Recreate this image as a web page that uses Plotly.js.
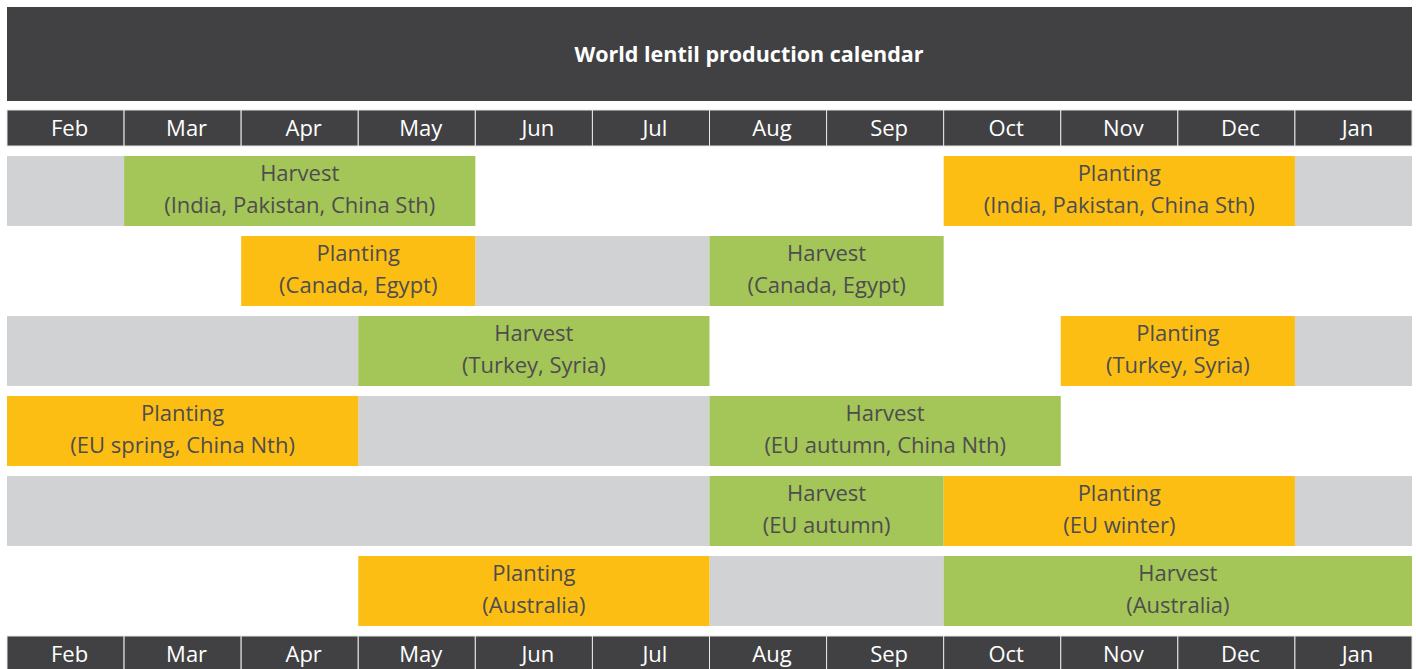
<!DOCTYPE html>
<html>
<head>
<meta charset="utf-8">
<script src="https://cdn.plot.ly/plotly-3.0.1.min.js"></script>
<style>html,body{margin:0;padding:0;background:#fff;}#chart{width:1416px;height:669px;}</style>
</head>
<body>
<div id="chart"></div>
<script>
// ---- data ----
const title = 'World lentil production calendar';
const months = ['Feb','Mar','Apr','May','Jun','Jul','Aug','Sep','Oct','Nov','Dec','Jan'];

// row index (0 = top), start month index, end month index (exclusive), label
const plantRow   = [0, 1, 2, 3, 4, 5];
const plantStart = [8, 2, 9, 0, 8, 3];
const plantEnd   = [11, 4, 11, 3, 11, 6];
const plantLabel = ['India, Pakistan, China Sth', 'Canada, Egypt', 'Turkey, Syria', 'EU spring, China Nth', 'EU winter', 'Australia'];

const harvestRow   = [0, 1, 2, 3, 4, 5];
const harvestStart = [1, 6, 3, 6, 6, 8];
const harvestEnd   = [4, 8, 6, 9, 8, 12];
const harvestLabel = ['India, Pakistan, China Sth', 'Canada, Egypt', 'Turkey, Syria', 'EU autumn, China Nth', 'EU autumn', 'Australia'];

const offRow   = [0, 0, 1, 2, 2, 3, 4, 4, 5];
const offStart = [0, 11, 4, 0, 11, 3, 0, 11, 6];
const offEnd   = [1, 12, 6, 3, 12, 6, 6, 12, 8];

// ---- styles ----
const GREEN = '#A4C557', ORANGE = '#FDBE14', GREY = '#D1D2D4', DARK = '#414143', TXT = '#4D4D4F';
const FONT = 'Open Sans, sans-serif';
const ROW_W = 0.875, HEAD_W = 0.45;
const headTop = -0.7875, headBottom = 5.7875;
const LINE_OFF = 0.2;      // vertical half-distance between two label lines
const HEAD_SHIFT = 0.034;  // month labels sit slightly right of column centre
const HEAD_DY = 0.025;     // month labels sit slightly low

function segBars(rows, starts, ends, color) {
  return {
    type: 'bar', orientation: 'h',
    y: rows, base: starts, x: starts.map((s, i) => ends[i] - s),
    width: ROW_W,
    marker: {color: color, line: {width: 0}},
    textposition: 'none',
    hoverinfo: 'skip', showlegend: false
  };
}

function segText(rows, starts, ends, texts, dy) {
  return {
    type: 'scatter', mode: 'text',
    x: starts.map((s, i) => (s + ends[i]) / 2),
    y: rows.map(r => r + dy),
    text: texts,
    textposition: 'middle center',
    textfont: {family: FONT, size: 22, color: TXT},
    hoverinfo: 'skip', showlegend: false, cliponaxis: false
  };
}

function headerBars(yPos) {
  return {
    type: 'bar', orientation: 'h',
    y: months.map(() => yPos), base: months.map((m, i) => i), x: months.map(() => 1),
    width: HEAD_W,
    marker: {color: DARK, line: {color: '#E6E6E6', width: 1}},
    textposition: 'none',
    hoverinfo: 'skip', showlegend: false
  };
}

function headerText(yPos) {
  return {
    type: 'scatter', mode: 'text',
    x: months.map((m, i) => i + 0.5 + HEAD_SHIFT),
    y: months.map(() => yPos + HEAD_DY),
    text: months,
    textposition: 'middle center',
    textfont: {family: FONT, size: 22, color: '#FFFFFF'},
    hoverinfo: 'skip', showlegend: false, cliponaxis: false
  };
}

const data = [
  segBars(offRow, offStart, offEnd, GREY),
  segBars(harvestRow, harvestStart, harvestEnd, GREEN),
  segBars(plantRow, plantStart, plantEnd, ORANGE),
  headerBars(headTop),
  headerBars(headBottom),
  segText(harvestRow, harvestStart, harvestEnd, harvestRow.map(() => 'Harvest'), -LINE_OFF),
  segText(harvestRow, harvestStart, harvestEnd, harvestLabel.map(l => '(' + l + ')'), LINE_OFF),
  segText(plantRow, plantStart, plantEnd, plantRow.map(() => 'Planting'), -LINE_OFF),
  segText(plantRow, plantStart, plantEnd, plantLabel.map(l => '(' + l + ')'), LINE_OFF),
  headerText(headTop),
  headerText(headBottom)
];

const layout = {
  width: 1416, height: 669,
  margin: {l: 0, r: 0, t: 0, b: 0, pad: 0},
  paper_bgcolor: '#FFFFFF', plot_bgcolor: '#FFFFFF',
  barmode: 'overlay',
  showlegend: false,
  xaxis: {range: [-0.0598, 12.034], showgrid: false, zeroline: false, showticklabels: false, ticks: '', fixedrange: true},
  yaxis: {range: [5.975, -2.3875], showgrid: false, zeroline: false, showticklabels: false, ticks: '', fixedrange: true},
  shapes: [{
    type: 'rect', xref: 'paper', yref: 'paper',
    x0: 7 / 1416, x1: 1412 / 1416, y0: 1 - 101 / 669, y1: 1 - 7 / 669,
    fillcolor: DARK, line: {width: 0}, layer: 'below'
  }],
  title: {
    text: '<b>' + title + '</b>',
    x: 749 / 1416, xanchor: 'center', xref: 'paper',
    y: 1 - 54 / 669, yanchor: 'middle', yref: 'container',
    font: {family: FONT, size: 21.5, color: '#FFFFFF'}
  },
  hovermode: false
};

Plotly.newPlot('chart', data, layout, {staticPlot: true, displayModeBar: false});
</script>
</body>
</html>
